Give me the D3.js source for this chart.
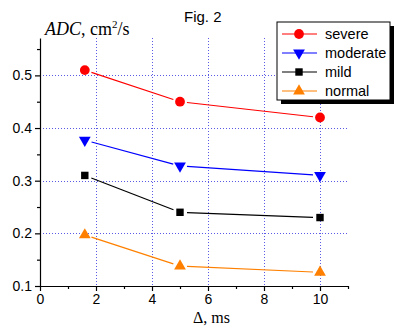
<!DOCTYPE html>
<html><head><meta charset="utf-8">
<script src="https://cdn.jsdelivr.net/npm/d3@7"></script>
<style>body{margin:0;background:#fff}svg{display:block}</style>
</head><body><svg id="c" width="396" height="332"></svg>
<script>
const deltaMs = [1.6, 5, 10];
const severe = [0.51, 0.45, 0.42];
const moderate = [0.377, 0.328, 0.31];
const mild = [0.31, 0.24, 0.23];
const normal = [0.197, 0.138, 0.126];
const seriesNames = ["severe", "moderate", "mild", "normal"];
const xTicks = [0, 2, 4, 6, 8, 10];
const yTicks = [0.1, 0.2, 0.3, 0.4, 0.5];

const colors = {severe:"#ff0000", moderate:"#0000ff", mild:"#000000", normal:"#ff8000"};
const symbols = {severe:d3.symbolCircle, moderate:"down", mild:d3.symbolSquare, normal:d3.symbolTriangle};
const sizes = {severe:75, moderate:60, mild:55, normal:60};
const series = [
  {name:"severe", vals:severe},
  {name:"moderate", vals:moderate},
  {name:"mild", vals:mild},
  {name:"normal", vals:normal}
];

const svg = d3.select("#c");
const x = d3.scaleLinear().domain([0, 11]).range([40, 348]);
const y = d3.scaleLinear().domain([0.1, 0.571]).range([286, 38]);
const sans = "'Liberation Sans', Arial, sans-serif";
const serif = "'Liberation Serif', 'Times New Roman', serif";

// grid
const grid = svg.append("g").attr("stroke", "#5a5ae6").attr("stroke-width", 1).attr("stroke-dasharray", "1,2");
xTicks.filter(v => v > 0).forEach(v => {
  grid.append("line").attr("x1", x(v)+0.5).attr("x2", x(v)+0.5).attr("y1", y.range()[1]).attr("y2", y.range()[0]);
});
yTicks.filter(v => v > 0.1).forEach(v => {
  grid.append("line").attr("x1", x.range()[0]).attr("x2", x.range()[1]).attr("y1", Math.round(y(v))+0.5).attr("y2", Math.round(y(v))+0.5);
});

// axes
const xAxis = d3.axisBottom(x).tickValues(xTicks).tickFormat(d3.format("d")).tickSize(5).tickPadding(3).tickSizeOuter(0);
svg.append("g").attr("transform", `translate(0,${y.range()[0]})`).call(xAxis);
const xMinor = d3.axisBottom(x).tickValues([1,3,5,7,9,11]).tickFormat("").tickSize(3).tickSizeOuter(0);
svg.append("g").attr("transform", `translate(0,${y.range()[0]})`).call(xMinor).select(".domain").remove();
const yAxis = d3.axisLeft(y).tickValues(yTicks).tickFormat(d3.format(".1f")).tickSize(5).tickPadding(3).tickSizeOuter(0);
svg.append("g").attr("transform", `translate(${x.range()[0]},0)`).call(yAxis);
const yMinor = d3.axisLeft(y).tickValues([0.15,0.25,0.35,0.45,0.55]).tickFormat("").tickSize(3).tickSizeOuter(0);
svg.append("g").attr("transform", `translate(${x.range()[0]},0)`).call(yMinor).select(".domain").remove();
svg.selectAll(".tick text").attr("font-family", sans).attr("font-size", 14).attr("fill", "#000");
svg.selectAll(".domain, .tick line").attr("stroke", "#000").attr("stroke-width", 1.2);

// marker helper
function marker(g, name, cx, cy, scale) {
  const s = symbols[name];
  if (s === "down") {
    g.append("path").attr("d", d3.symbol(d3.symbolTriangle, sizes[name]*scale)())
      .attr("transform", `translate(${cx},${cy}) rotate(180)`).attr("fill", colors[name]);
  } else {
    g.append("path").attr("d", d3.symbol(s, sizes[name]*scale)())
      .attr("transform", `translate(${cx},${cy})`).attr("fill", colors[name]);
  }
}

// series
const gap = 7;
series.forEach(sr => {
  const g = svg.append("g");
  const pts = deltaMs.map((d, i) => [x(d), y(sr.vals[i])]);
  for (let i = 0; i < pts.length - 1; i++) {
    const [x1, y1] = pts[i], [x2, y2] = pts[i+1];
    const L = Math.hypot(x2-x1, y2-y1);
    const ux = (x2-x1)/L, uy = (y2-y1)/L;
    g.append("line").attr("x1", x1+ux*gap).attr("y1", y1+uy*gap).attr("x2", x2-ux*gap).attr("y2", y2-uy*gap)
      .attr("stroke", colors[sr.name]).attr("stroke-width", 1.2);
  }
  pts.forEach(p => marker(g, sr.name, p[0], p[1], 1));
});

// title & labels
svg.append("text").attr("x", 184).attr("y", 22).attr("font-family", sans).attr("font-size", 15).text("Fig. 2");
const yl = svg.append("text").attr("x", 45).attr("y", 35).attr("font-family", serif).attr("font-size", 18);
yl.append("tspan").attr("font-style", "italic").text("ADC");
yl.append("tspan").text(", cm");
yl.append("tspan").attr("font-size", 11).attr("dy", -7).text("2");
yl.append("tspan").attr("dy", 7).text("/s");
svg.append("text").attr("x", 193).attr("y", 323).attr("font-family", serif).attr("font-size", 16).text("Δ, ms");

// legend
const lg = svg.append("g");
const lx = 277, ly = 22, lw = 113, lh = 78;
lg.append("rect").attr("x", lx+4).attr("y", ly+4).attr("width", lw).attr("height", lh).attr("fill", "#000");
lg.append("rect").attr("x", lx).attr("y", ly).attr("width", lw).attr("height", lh).attr("fill", "#fff").attr("stroke", "#000").attr("stroke-width", 1);
seriesNames.forEach((n, i) => {
  const cy = 34 + i*19;
  lg.append("line").attr("x1", 282).attr("x2", 317).attr("y1", cy).attr("y2", cy).attr("stroke", colors[n]).attr("stroke-width", 1.2);
  marker(lg, n, 299, cy, 1);
  lg.append("text").attr("x", 325).attr("y", cy + 5).attr("font-family", sans).attr("font-size", 14.5).text(n);
});
</script></body></html>
